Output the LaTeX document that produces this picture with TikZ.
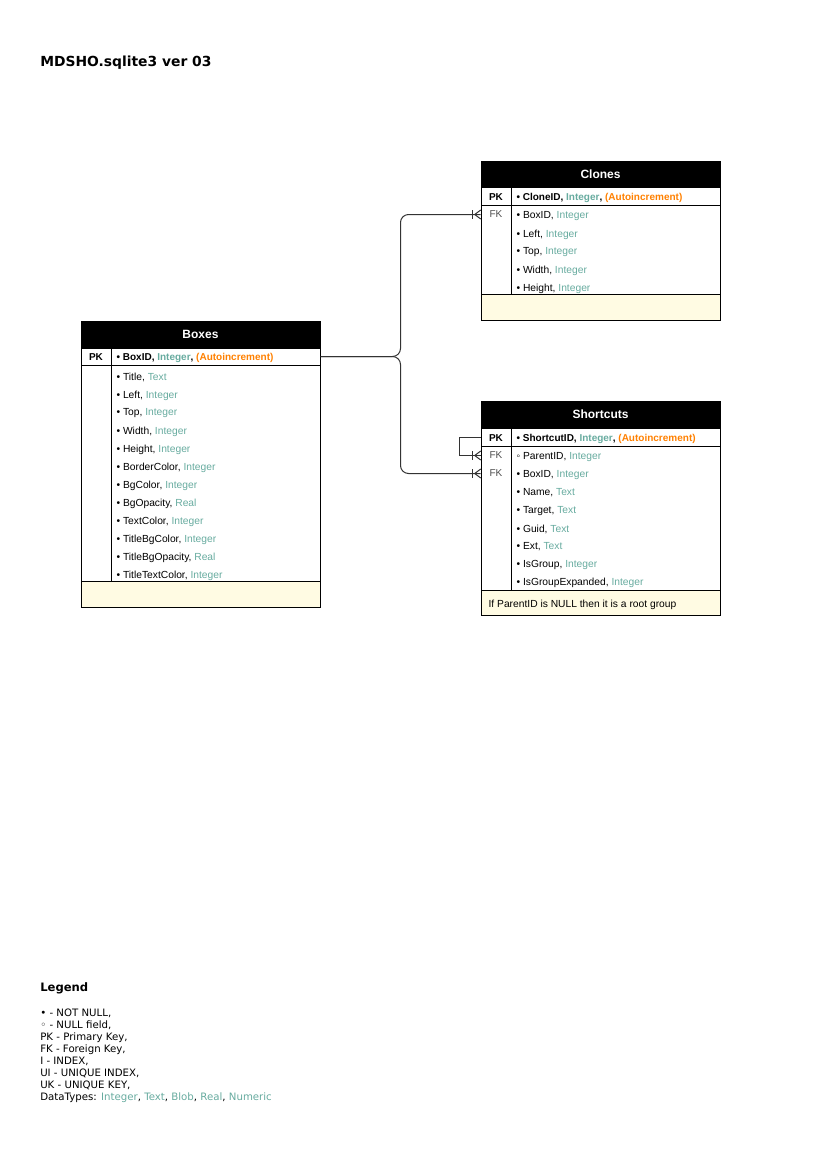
\documentclass[tikz,border=0pt]{standalone}
\usepackage{fontspec}
\setmainfont{Liberation Sans}
\newfontfamily\legendfont{DejaVu Sans}
\usepackage{color}
\definecolor{DataType}{HTML}{67AB9F}
\definecolor{AutoInc}{HTML}{FF8000}
\definecolor{NoteBg}{HTML}{FFFBE3}
\definecolor{Wire}{HTML}{333333}
\definecolor{FkGray}{HTML}{4D4D4D}
\newcommand{\dtype}[1]{\textcolor{DataType}{#1}}
\newcommand{\autoinc}{\textcolor{AutoInc}{(Autoincrement)}}
\newcommand{\pkfield}{\fontsize{7.5}{9}\selectfont\bfseries}
\newcommand{\crowfoot}[1]{%
  \draw[wire] ([shift={(-8,-4.5)}]#1) -- ([shift={(-8,4.5)}]#1);
  \draw[wire] ([shift={(0,-4.5)}]#1) -- ([shift={(-6,0)}]#1) -- ([shift={(0,4.5)}]#1);}

\begin{document}
\begin{tikzpicture}[x=0.75pt, y=-0.75pt,
    wire/.style={draw=Wire, line width=0.75pt},
    tabtitle/.style={draw=black, fill=black, text=white, line width=0.75pt, inner sep=0pt,
      minimum width=179.25pt, font=\fontsize{9}{10}\selectfont\bfseries},
    tabpart/.style={draw=black, line width=0.75pt, inner sep=0pt, minimum width=179.25pt},
    tabnote/.style={tabpart, fill=NoteBg},
    keycell/.style={inner sep=0pt, minimum width=22.5pt, minimum height=13.5pt,
      font=\fontsize{7.5}{9}\selectfont},
    field/.style={anchor=west, inner sep=1pt, font=\fontsize{7.7}{9}\selectfont}]
  \useasboundingbox (0,0) rectangle (822,1161);

  \node[anchor=west, inner sep=0pt, font=\legendfont\bfseries\fontsize{10.4}{12}\selectfont] (docTitle) at (40,62.5) {MDSHO.sqlite3 ver 03};

  % Clones
  \node[tabtitle, minimum height=19.5pt] (clones) at (600.5,174) {Clones};
  \node[tabpart, minimum height=13.5pt] (clonesPK) at (600.5,196) {};
  \node[tabpart, minimum height=66.75pt] (clonesBody) at (600.5,249.5) {};
  \node[tabnote, minimum height=19.5pt] (clonesNote) at (600.5,307) {};
  \draw[line width=0.75pt] (clonesPK.north west -| 511,0) -- (clonesBody.south west -| 511,0);
  \node[keycell, font=\pkfield] (clonesPKkey) at (496,197.5) {PK};
  \node[keycell, text=FkGray] (clonesFK) at (496,214.5) {FK};
  \node[field, font=\pkfield] (clonesCloneID) at (515,198) {• CloneID, \dtype{Integer}, \autoinc};
  \node[field] (clonesBoxID) at (515,216) {• BoxID, \dtype{Integer}};
  \node[field] (clonesLeft) at (515,234.5) {• Left, \dtype{Integer}};
  \node[field] (clonesTop) at (515,252.5) {• Top, \dtype{Integer}};
  \node[field] (clonesWidth) at (515,270.5) {• Width, \dtype{Integer}};
  \node[field] (clonesHeight) at (515,288.5) {• Height, \dtype{Integer}};

  % Boxes
  \node[tabtitle, minimum height=20.25pt] (boxes) at (200.5,334.5) {Boxes};
  \node[tabpart, minimum height=12.75pt] (boxesPK) at (200.5,356.5) {};
  \node[tabpart, minimum height=162pt] (boxesBody) at (200.5,473) {};
  \node[tabnote, minimum height=19.5pt] (boxesNote) at (200.5,594) {};
  \draw[line width=0.75pt] (boxesPK.north west -| 111,0) -- (boxesBody.south west -| 111,0);
  \node[keycell, font=\pkfield] (boxesPKkey) at (96,357.5) {PK};
  \node[field, font=\pkfield] (boxesBoxID) at (115,358) {• BoxID, \dtype{Integer}, \autoinc};
  \node[field] (boxesTitle) at (115,377.5) {• Title, \dtype{Text}};
  \node[field] (boxesLeft) at (115,395.5) {• Left, \dtype{Integer}};
  \node[field] (boxesTop) at (115,413.5) {• Top, \dtype{Integer}};
  \node[field] (boxesWidth) at (115,431.5) {• Width, \dtype{Integer}};
  \node[field] (boxesHeight) at (115,449.5) {• Height, \dtype{Integer}};
  \node[field] (boxesBorderColor) at (115,467.5) {• BorderColor, \dtype{Integer}};
  \node[field] (boxesBgColor) at (115,485.5) {• BgColor, \dtype{Integer}};
  \node[field] (boxesBgOpacity) at (115,503.5) {• BgOpacity, \dtype{Real}};
  \node[field] (boxesTextColor) at (115,521.5) {• TextColor, \dtype{Integer}};
  \node[field] (boxesTitleBgColor) at (115,539.5) {• TitleBgColor, \dtype{Integer}};
  \node[field] (boxesTitleBgOpacity) at (115,557.5) {• TitleBgOpacity, \dtype{Real}};
  \node[field] (boxesTitleTextColor) at (115,575.5) {• TitleTextColor, \dtype{Integer}};

  % Shortcuts
  \node[tabtitle, minimum height=20.25pt] (shortcuts) at (600.5,414.5) {Shortcuts};
  \node[tabpart, minimum height=13.5pt] (shortcutsPK) at (600.5,437) {};
  \node[tabpart, minimum height=108pt] (shortcutsBody) at (600.5,518) {};
  \node[tabnote, minimum height=18.75pt] (shortcutsNote) at (600.5,602.5) {};
  \draw[line width=0.75pt] (shortcutsPK.north west -| 511,0) -- (shortcutsBody.south west -| 511,0);
  \node[keycell, font=\pkfield] (shortcutsPKkey) at (496,438) {PK};
  \node[keycell, text=FkGray] (shortcutsParentFK) at (496,455.5) {FK};
  \node[keycell, text=FkGray] (shortcutsBoxFK) at (496,473.5) {FK};
  \node[field, font=\pkfield] (shortcutsShortcutID) at (515,438.5) {• ShortcutID, \dtype{Integer}, \autoinc};
  \node[field] (shortcutsParentID) at (515,457) {◦ ParentID, \dtype{Integer}};
  \node[field] (shortcutsBoxID) at (515,475) {• BoxID, \dtype{Integer}};
  \node[field] (shortcutsName) at (515,493) {• Name, \dtype{Text}};
  \node[field] (shortcutsTarget) at (515,511) {• Target, \dtype{Text}};
  \node[field] (shortcutsGuid) at (515,529) {• Guid, \dtype{Text}};
  \node[field] (shortcutsExt) at (515,547) {• Ext, \dtype{Text}};
  \node[field] (shortcutsIsGroup) at (515,565) {• IsGroup, \dtype{Integer}};
  \node[field] (shortcutsIsGroupExpanded) at (515,583) {• IsGroupExpanded, \dtype{Integer}};
  \node[field] (shortcutsNoteText) at (487,605) {If ParentID is NULL then it is a root group};

  % relations
  \draw[wire, rounded corners=6] (boxesPK.east) -- ++(80,0) |- (clonesFK.west);
  \draw[wire, rounded corners=6] (boxesPK.east) -- ++(80,0) |- (shortcutsBoxFK.west);
  \draw[wire] (shortcutsPK.west) -- ++(-21,0) |- (shortcutsParentFK.west);
  \crowfoot{clonesFK.west}
  \crowfoot{shortcutsParentFK.west}
  \crowfoot{shortcutsBoxFK.west}

  % legend
  \node[anchor=west, inner sep=0pt, font=\legendfont\bfseries\fontsize{8.7}{10}\selectfont] (legendTitle) at (40,988) {Legend};
  \node[anchor=north west, inner sep=0pt, align=left, font=\legendfont\fontsize{7.65}{9}\selectfont] (legendBody) at (40,1009) {%
    • - NOT NULL,\\
    ◦ - NULL field,\\
    PK - Primary Key,\\
    FK - Foreign Key,\\
    I - INDEX,\\
    UI - UNIQUE INDEX,\\
    UK - UNIQUE KEY,\\
    DataTypes: \dtype{Integer}, \dtype{Text}, \dtype{Blob}, \dtype{Real}, \dtype{Numeric}};
\end{tikzpicture}
\end{document}
